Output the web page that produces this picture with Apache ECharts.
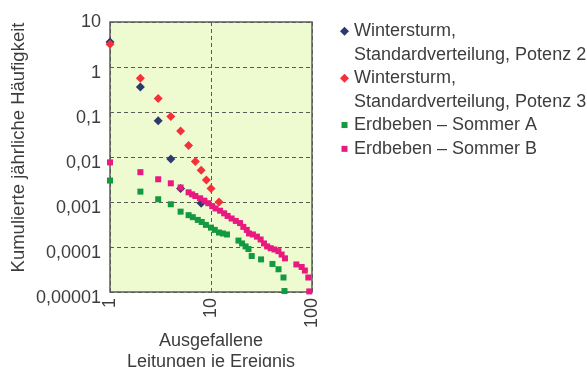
<!DOCTYPE html>
<html><head><meta charset="utf-8">
<script src="https://cdn.jsdelivr.net/npm/echarts@6/dist/echarts.min.js"></script>
<style>html,body{margin:0;padding:0;background:#fff}#c{width:587px;height:367px}</style>
</head><body><div id="c"></div>
<script>
const seriesNames = [
  'Wintersturm,\nStandardverteilung, Potenz 2',
  'Wintersturm,\nStandardverteilung, Potenz 3',
  'Erdbeben – Sommer A',
  'Erdbeben – Sommer B'
];
const wsP2X = [1, 2, 3, 4, 5, 8];
const wsP2Y = [3.6, 0.36, 0.064, 0.009, 0.002, 0.00094];
const wsP3X = [1, 2, 3, 4, 5, 6, 7, 8, 9, 10, 12];
const wsP3Y = [3.2, 0.56, 0.2, 0.079, 0.038, 0.018, 0.0079, 0.0051, 0.0031, 0.002, 0.001];
const ebAX = [1, 2, 3, 4, 5, 6, 6.6, 7.4, 8.1, 8.9, 10, 10.9, 12, 13.1, 14.4, 18.7, 20.3, 22, 23.5, 25.3, 31.3, 40.6, 46.6, 52.2, 53.4];
const ebAY = [0.003, 0.0017, 0.00115, 0.00089, 0.00061, 0.00051, 0.00046, 0.0004, 0.00036, 0.00031, 0.00027, 0.00024, 0.00021, 0.0002, 0.00019, 0.000139, 0.00012, 0.000103, 0.00009, 0.000063, 0.000053, 0.000042, 0.000032, 0.000021, 0.0000105];
const ebBX = [1, 2, 3, 4, 5, 6, 6.5, 7, 7.8, 8.6, 9.4, 10.3, 11.1, 12.3, 13.5, 14.6, 16, 17.6, 19.4, 20.9, 22.6, 23.8, 26, 28.5, 31, 33.5, 36, 39, 42.5, 46.5, 50, 54, 70, 79, 85, 92, 94];
const ebBY = [0.0076, 0.0046, 0.0032, 0.0026, 0.0021, 0.00164, 0.00148, 0.00136, 0.00121, 0.00107, 0.00094, 0.00081, 0.00072, 0.00064, 0.00056, 0.00049, 0.00043, 0.00038, 0.00034, 0.00028, 0.00024, 0.0002, 0.00019, 0.00017, 0.000147, 0.00012, 0.000103, 0.000094, 0.000088, 0.000081, 0.000068, 0.000056, 0.000041, 0.000036, 0.00003, 0.000021, 0.0000103];
const yTickLabels = ['0,00001', '0,0001', '0,001', '0,01', '0,1', '1', '10'];
const xTickLabels = ['1', '10', '100'];
const yAxisTitle = 'Kumulierte jährliche Häufigkeit';
const xAxisTitle = 'Ausgefallene\nLeitungen je Ereignis';

function pairs(xs, ys) { return xs.map((x, i) => [x, ys[i]]); }
const FONT = 'Liberation Sans';
const TXT = '#3d3d3d';
const colors = ['#2c3a6c', '#f3313b', '#13993f', '#e8197f'];
const tallDiamond = 'path://M0,33M4.5,0L9,4.5L4.5,9L0,4.5Z';
const sqIcon = 'path://M0,0M9,9M1.5,1.5L7.5,1.5L7.5,7.5L1.5,7.5Z';
const legendText = { fontFamily: FONT, fontSize: 18, color: TXT, lineHeight: 23.7 };
function legendFor(i, top, icon, ih) {
  return {
    orient: 'vertical', left: 340, top: top, padding: 0,
    itemWidth: 9, itemHeight: ih, selectedMode: false,
    textStyle: legendText,
    data: [{ name: seriesNames[i], icon: icon }]
  };
}

const chart = echarts.init(document.getElementById('c'), null, { renderer: 'canvas' });
chart.setOption({
  animation: false,
  backgroundColor: '#ffffff',
  textStyle: { fontFamily: FONT },
  grid: {
    left: 110, top: 22, width: 202, height: 270, containLabel: false, outerBoundsMode: 'none',
    show: true, backgroundColor: '#eefbd1', borderColor: '#56624e', borderWidth: 1.5
  },
  legend: [
    legendFor(0, 19.5, tallDiamond, 33),
    legendFor(1, 66.5, tallDiamond, 33),
    legendFor(2, 113.2, sqIcon, 9),
    legendFor(3, 137, sqIcon, 9)
  ],
  xAxis: {
    type: 'log', logBase: 10, min: 1, max: 100, interval: 1,
    name: xAxisTitle, nameLocation: 'middle', nameGap: 39, nameMoveOverlap: false,
    nameTextStyle: { fontFamily: FONT, fontSize: 18, color: TXT, lineHeight: 21 },
    axisLine: { show: false }, axisTick: { show: false },
    axisLabel: {
      rotate: 90, margin: 6, fontSize: 18, color: TXT, fontFamily: FONT,
      formatter: v => xTickLabels[Math.round(Math.log10(v))]
    },
    splitLine: { show: true, lineStyle: { color: '#5a5a5a', type: [4, 3], width: 1 } }
  },
  yAxis: {
    type: 'log', logBase: 10, min: 0.00001, max: 10, interval: 1,
    name: yAxisTitle, nameLocation: 'middle', nameGap: 82, nameMoveOverlap: false,
    nameTextStyle: { fontFamily: FONT, fontSize: 18.5, color: TXT, padding: [0, 0, 0, 19] },
    axisLine: { show: false }, axisTick: { show: false },
    axisLabel: {
      margin: 9, fontSize: 18, color: TXT, fontFamily: FONT,
      formatter: v => {
        const i = Math.round(Math.log10(v)) + 5;
        const t = yTickLabels[i];
        return i === 6 ? '{t|' + t + '}' : '{n|' + t + '}';
      },
      rich: {
        n: { fontSize: 18, color: TXT, fontFamily: FONT, padding: [13, 0, 0, 0] },
        t: { fontSize: 18, color: TXT, fontFamily: FONT }
      }
    },
    splitLine: { show: true, lineStyle: { color: '#5a5a5a', type: [4, 3], width: 1 } }
  },
  series: [
    { name: seriesNames[0], type: 'scatter', symbol: 'diamond', symbolSize: 9,
      itemStyle: { color: colors[0], opacity: 1 }, data: pairs(wsP2X, wsP2Y), z: 2 },
    { name: seriesNames[1], type: 'scatter', symbol: 'diamond', symbolSize: 9,
      itemStyle: { color: colors[1], opacity: 1 }, data: pairs(wsP3X, wsP3Y), z: 3 },
    { name: seriesNames[2], type: 'scatter', symbol: 'rect', symbolSize: 6,
      itemStyle: { color: colors[2], opacity: 1 }, data: pairs(ebAX, ebAY), z: 4 },
    { name: seriesNames[3], type: 'scatter', symbol: 'rect', symbolSize: 6,
      itemStyle: { color: colors[3], opacity: 1 }, data: pairs(ebBX, ebBY), z: 5 }
  ]
});
</script>
</body></html>
